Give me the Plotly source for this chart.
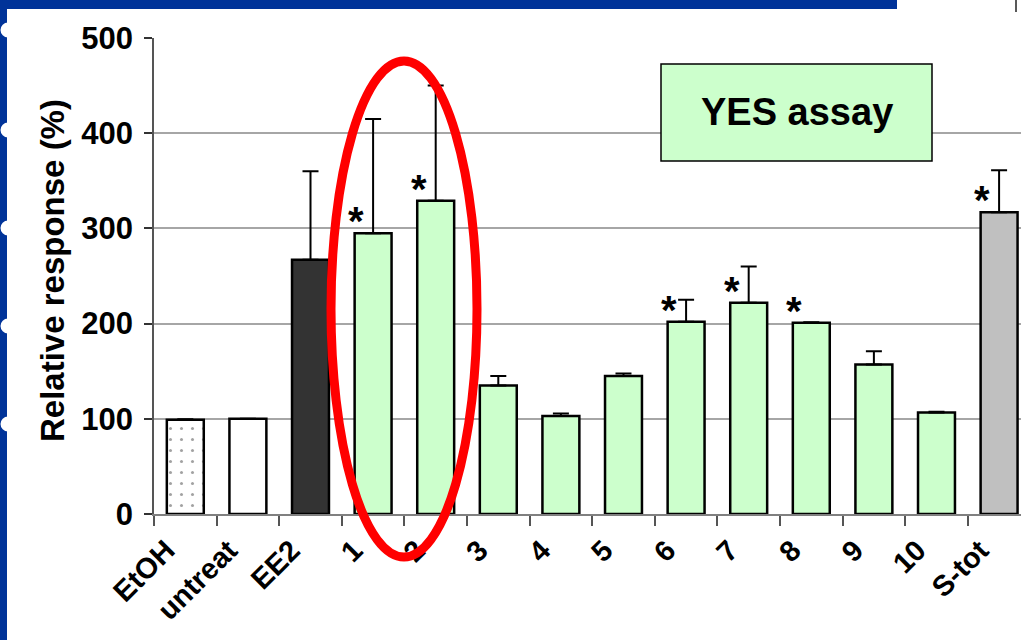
import plotly.graph_objects as go

# Relative response of each sample in the YES assay (% of untreated control)
categories = ["EtOH", "untreat", "EE2", "1", "2", "3", "4", "5", "6", "7", "8", "9", "10", "S-tot"]
response = [99, 100, 267, 295, 329, 135, 103, 145, 202, 222, 201, 157, 106.5, 317]
err_upper = [0.5, 0, 93, 120, 121, 10, 2.5, 2.5, 23, 38, 0.5, 14, 1, 44]
significant = [False, False, False, True, True, False, False, False, True, True, True, False, False, True]
y_ticks = [0, 100, 200, 300, 400, 500]

FONT = "Liberation Sans, Arial, sans-serif"
W, H = 1021, 640
L, R, T, B = 154, 1021, 38, 514  # plot area in pixels


def fx(px):
    return (px - L) / (R - L)


def fy(py):
    return (B - py) / (B - T)


colors = ["#FFFFFF", "#FFFFFF", "#333333"] + ["#CCFFCC"] * 10 + ["#C0C0C0"]
shapes_pat = ["."] + [""] * 13

fig = go.Figure()
fig.add_trace(go.Bar(
    x=categories,
    y=response,
    width=0.59,
    marker=dict(
        color=colors,
        line=dict(color="black", width=2.5),
        pattern=dict(shape=shapes_pat, fgcolor="#111111", size=11, solidity=0.06),
    ),
    error_y=dict(type="data", symmetric=False, array=err_upper,
                 arrayminus=[0] * len(response), color="black", thickness=2, width=8),
    showlegend=False,
))

annotations = []
# significance stars, placed just left of the error bar above each bar
for i, (cat, val, sig) in enumerate(zip(categories, response, significant)):
    if sig:
        annotations.append(dict(
            x=i - 0.27, y=val, xref="x", yref="y", text="*", showarrow=False,
            yanchor="bottom", yshift=-12,
            font=dict(family=FONT, size=40, color="black", weight="bold"),
        ))

annotations.append(dict(
    x=fx(52), y=fy(271), xref="paper", yref="paper", text="Relative response (%)",
    textangle=-90, showarrow=False, xanchor="center", yanchor="middle",
    font=dict(family=FONT, size=33, color="black", weight="bold"),
))
annotations.append(dict(
    x=fx(796.5), y=fy(112), xref="paper", yref="paper", text="YES assay",
    showarrow=False, xanchor="center", yanchor="middle",
    font=dict(family=FONT, size=38, color="black", weight="bold"),
))

shapes = [
    # slide background around the chart
    dict(type="rect", xref="paper", yref="paper", x0=fx(0), x1=fx(7), y0=fy(640), y1=fy(0),
         fillcolor="#003399", line=dict(width=0), layer="below"),
    dict(type="rect", xref="paper", yref="paper", x0=fx(0), x1=fx(897), y0=fy(9), y1=fy(0),
         fillcolor="#003399", line=dict(width=0), layer="below"),
    dict(type="line", xref="paper", yref="paper", x0=fx(1016), x1=fx(1016), y0=fy(12), y1=fy(0),
         line=dict(color="#222222", width=1.5)),
    # title box
    dict(type="rect", xref="paper", yref="paper", x0=fx(661), x1=fx(932), y0=fy(161), y1=fy(64),
         fillcolor="#CCFFCC", line=dict(color="black", width=1.5), layer="above"),
    # highlight around samples 1 and 2
    dict(type="circle", xref="paper", yref="paper", x0=fx(331), x1=fx(477), y0=fy(557), y1=fy(61),
         line=dict(color="#FF0000", width=9), fillcolor="rgba(0,0,0,0)", layer="above"),
]
for by in [30, 130, 228, 326, 424]:
    shapes.append(dict(type="circle", xref="paper", yref="paper",
                       x0=fx(0.5), x1=fx(15.5), y0=fy(by + 7.5), y1=fy(by - 7.5),
                       fillcolor="white", line=dict(width=0), layer="below"))

fig.update_layout(
    width=W, height=H,
    margin=dict(l=L, r=W - R, t=T, b=H - B, pad=0),
    paper_bgcolor="white", plot_bgcolor="white",
    bargap=0.41,
    shapes=shapes,
    annotations=annotations,
    xaxis=dict(
        type="category", range=[-0.5, 13.35], tickson="boundaries",
        ticks="outside", ticklen=10, tickwidth=1.5, tickcolor="#555555",
        showline=True, linecolor="#808080", linewidth=1.5,
        showgrid=False, tickangle=-45, ticklabelstandoff=6, ticklabelshift=-19,
        tickfont=dict(family=FONT, size=29, color="black", weight="bold"),
    ),
    yaxis=dict(
        range=[0, 500], tickvals=y_ticks, ticks="outside", ticklen=8, tickwidth=1.5,
        tickcolor="#333333", showline=True, linecolor="#555555", linewidth=1.5,
        showgrid=True, gridcolor="#A6A6A6", gridwidth=1.5, zeroline=False,
        ticklabelstandoff=5,
        tickfont=dict(family=FONT, size=31, color="black", weight="bold"),
    ),
)

fig.write_html("out.html")
